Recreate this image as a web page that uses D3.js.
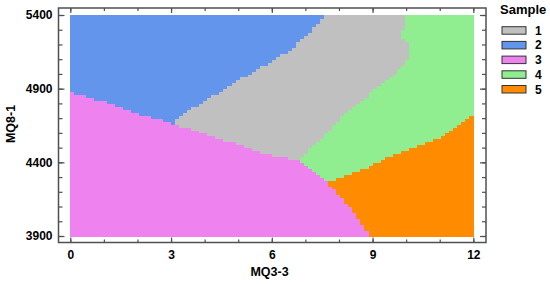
<!DOCTYPE html>
<html><head><meta charset="utf-8">
<script src="https://cdn.jsdelivr.net/npm/d3@7"></script>
<style>body{margin:0;background:#fff} svg{display:block} text{font-family:"Liberation Sans",Arial,sans-serif}</style>
</head><body><svg id="c" width="550" height="284"></svg>
<script>
// ---- data ----
const classes = ["1", "2", "3", "4", "5"];
const xMajorTicks = [0, 3, 6, 9, 12];
const xMinorTicks = [0,1,2,3,4,5,6,7,8,9,10,11,12];
const yMajorTicks = [3900, 4400, 4900, 5400];
const yMinorTicks = [3900,4000,4100,4200,4300,4400,4500,4600,4700,4800,4900,5000,5100,5200,5300,5400];
// region boundaries (MQ3-3, MQ8-1)
const region1 = [[7.605,5400],[9.967,5400],[9.967,5310],[9.88,5300],[9.88,5250],[9.967,5240],[10.086,5180],[10.086,5108],[9.61,4993],[9.133,4905],[8.627,4816],[8.039,4701],[7.584,4586],[6.781,4416],[5.947,4450],[5.053,4518],[4.249,4572],[3.862,4608],[3.058,4667],[3.267,4710],[3.862,4801],[4.556,4891],[5.253,4993],[5.848,5072],[6.542,5163],[7.236,5310]];
const region2 = [[0,5400],[7.605,5400],[7.236,5310],[6.542,5163],[5.848,5072],[5.253,4993],[4.556,4891],[3.862,4801],[3.267,4710],[3.058,4667],[1.867,4744],[0.884,4823],[0,4880]];
const region3 = [[0,4880],[0.884,4823],[1.867,4744],[3.058,4667],[3.862,4608],[4.249,4572],[5.053,4518],[5.947,4450],[6.781,4416],[7.2,4340],[7.645,4267],[7.933,4192],[8.418,4077],[8.775,3963],[8.864,3900],[0,3900]];
const region4 = [[9.967,5400],[12,5400],[12,4728],[11.902,4721],[11.604,4667],[11.059,4574],[10.622,4540],[9.61,4450],[8.627,4348],[7.645,4267],[7.2,4340],[6.781,4416],[7.584,4586],[8.039,4701],[8.627,4816],[9.133,4905],[9.61,4993],[10.086,5108],[10.086,5180],[9.967,5240],[9.88,5250],[9.88,5300],[9.967,5310]];
const region5 = [[7.645,4267],[8.627,4348],[9.61,4450],[10.622,4540],[11.059,4574],[11.604,4667],[11.902,4721],[12,4728],[12,3900],[8.864,3900],[8.775,3963],[8.418,4077],[7.933,4192]];
const regions = [region1, region2, region3, region4, region5];

// ---- style ----
const colors = ["#C0C0C0", "#6495ED", "#EE82EE", "#90EE90", "#FF8C00"];
const nx = 100, ny = 75;
const frame = {left: 58.5, right: 486, top: 8, bottom: 242.5};
const axisColor = "#505050";

const svg = d3.select("#c");
const x = d3.scaleLinear().domain([0, 12]).range([70.3, 473.3]);
const y = d3.scaleLinear().domain([3900, 5400]).range([236, 15]);

// grid cells classified by region membership
const cells = [];
const dx = 12 / nx, dy = 1500 / ny;
for (let i = 0; i < nx; i++) {
  for (let j = 0; j < ny; j++) {
    const cx = (i + 0.5) * dx, cy = 3900 + (j + 0.5) * dy;
    let k = regions.findIndex(r => d3.polygonContains(r, [cx, cy]));
    if (k < 0) k = 2;
    cells.push({x0: i * dx, x1: (i + 1) * dx, y0: 3900 + j * dy, y1: 3900 + (j + 1) * dy, k});
  }
}
svg.append("g").attr("shape-rendering", "crispEdges")
  .selectAll("rect").data(cells).join("rect")
  .attr("x", d => x(d.x0))
  .attr("y", d => y(d.y1))
  .attr("width", d => x(d.x1) - x(d.x0) + 0.6)
  .attr("height", d => y(d.y0) - y(d.y1) + 0.6)
  .attr("fill", d => colors[d.k]);

// frame
svg.append("rect").attr("x", frame.left).attr("y", frame.top)
  .attr("width", frame.right - frame.left).attr("height", frame.bottom - frame.top)
  .attr("fill", "none").attr("stroke", axisColor).attr("stroke-width", 1.5);

function styleAxis(g) {
  g.select(".domain").remove();
  g.selectAll("line").attr("stroke", axisColor).attr("stroke-width", 1.2);
  g.selectAll("text").attr("fill", "#000").attr("font-size", 12).attr("font-weight", "bold")
    .attr("font-family", "'Liberation Sans', Arial, sans-serif");
}
// bottom
svg.append("g").attr("transform", `translate(0,${frame.bottom})`)
  .call(d3.axisBottom(x).tickValues(xMinorTicks).tickSize(-3).tickFormat("")).call(styleAxis);
svg.append("g").attr("transform", `translate(0,${frame.bottom})`)
  .call(d3.axisBottom(x).tickValues(xMajorTicks).tickSize(-5).tickPadding(8).tickFormat(d3.format("d"))).call(styleAxis);
// top
svg.append("g").attr("transform", `translate(0,${frame.top})`)
  .call(d3.axisTop(x).tickValues(xMinorTicks).tickSize(-3).tickFormat("")).call(styleAxis);
svg.append("g").attr("transform", `translate(0,${frame.top})`)
  .call(d3.axisTop(x).tickValues(xMajorTicks).tickSize(-5).tickFormat("")).call(styleAxis);
// left
svg.append("g").attr("transform", `translate(${frame.left},0)`)
  .call(d3.axisLeft(y).tickValues(yMinorTicks).tickSize(-4).tickFormat("")).call(styleAxis);
svg.append("g").attr("transform", `translate(${frame.left},0)`)
  .call(d3.axisLeft(y).tickValues(yMajorTicks).tickSize(-6).tickPadding(6).tickFormat(d3.format("d"))).call(styleAxis);
// right
svg.append("g").attr("transform", `translate(${frame.right},0)`)
  .call(d3.axisRight(y).tickValues(yMinorTicks).tickSize(-4).tickFormat("")).call(styleAxis);
svg.append("g").attr("transform", `translate(${frame.right},0)`)
  .call(d3.axisRight(y).tickValues(yMajorTicks).tickSize(-6).tickFormat("")).call(styleAxis);

// axis titles
svg.append("text").attr("x", 269.5).attr("y", 276).attr("text-anchor", "middle")
  .attr("font-size", 12.5).attr("font-weight", "bold").text("MQ3-3");
svg.append("text").attr("transform", "translate(15,124) rotate(-90)").attr("text-anchor", "middle")
  .attr("font-size", 12.5).attr("font-weight", "bold").text("MQ8-1");

// legend
svg.append("text").attr("x", 500).attr("y", 13.5).attr("font-size", 13).attr("font-weight", "bold").text("Sample");
const lg = svg.append("g").selectAll("g").data(classes).join("g")
  .attr("transform", (d, i) => `translate(0,${26.7 + i * 14.7})`);
lg.append("rect").attr("x", 502).attr("y", 0).attr("width", 24).attr("height", 7.5)
  .attr("fill", (d, i) => colors[i]).attr("stroke", "#333").attr("stroke-width", 1);
lg.append("text").attr("x", 535).attr("y", 8).attr("font-size", 12).attr("font-weight", "bold").text(d => d);
</script></body></html>
